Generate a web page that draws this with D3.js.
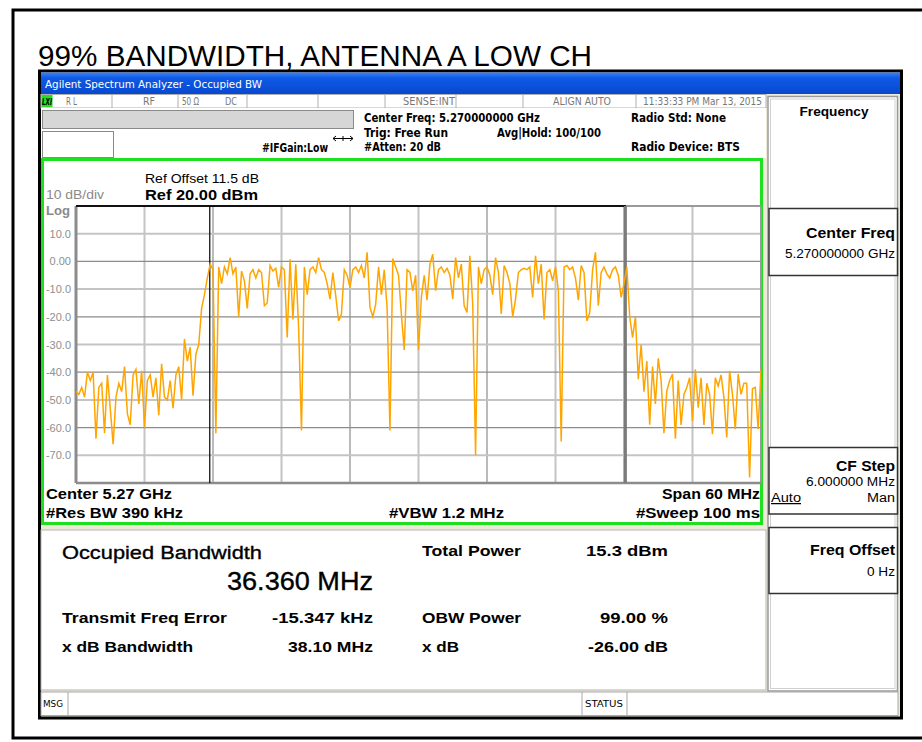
<!DOCTYPE html>
<html>
<head>
<meta charset="utf-8">
<script src="https://cdn.jsdelivr.net/npm/d3@7"></script>
<style>
  body { margin: 0; background: #fff; }
  figure { margin: 0; }
  svg { display: block; }
</style>
</head>
<body>
<figure id="obw"></figure>
<script>
// ---- chart values ----
const pageTitle = "99% BANDWIDTH, ANTENNA A LOW CH";
const windowTitle = "Agilent Spectrum Analyzer - Occupied BW";
const statusCells = ["R L", "RF", "50 Ω", "DC", "SENSE:INT", "ALIGN AUTO", "11:33:33 PM Mar 13, 2015"];
const setupTexts = ["Center Freq: 5.270000000 GHz", "Trig: Free Run", "Avg|Hold: 100/100", "#Atten: 20 dB",
  "Radio Std: None", "Radio Device: BTS", "#IFGain:Low"];
const refTexts = ["Ref Offset 11.5 dB", "Ref 20.00 dBm", "10 dB/div", "Log"];
const footerTexts = ["Center  5.27 GHz", "#Res BW  390 kHz", "#VBW  1.2 MHz", "Span 60 MHz", "#Sweep  100 ms"];

const refLevel = 20;      // dBm, top of graticule
const dbPerDiv = 10;
const spanMHz = 60;
const yTickValues = [10, 0, -10, -20, -30, -40, -50, -60, -70];
const yTickLabels = ["10.0", "0.00", "-10.0", "-20.0", "-30.0", "-40.0", "-50.0", "-60.0", "-70.0"];

// sweep points, offset from center freq
const sweepStartMHz = -30;
const sweepStepMHz = 0.25;
const traceDbm = [
  -47, -48, -45.5, -49, -40, -43, -40, -64, -45.5, -44, -62, -41,
  -53, -66, -49, -44, -47, -38, -55, -59, -41, -39, -51.5, -39.5,
  -60, -43, -41, -49, -42, -55.5, -37, -49, -50, -43, -53, -41,
  -38, -50, -28, -36, -31, -48.5, -33.5, -30, -17, -12, -6, -1,
  -3, -62, -2, -8, -2, -4.5, 1.4, -4.5, -2, -20, -3.5, -7,
  -17, -4.5, -3, -6, -3, -4, -16, -15, -1.5, -3.5, -2.5, -9.4,
  -2, -3, -27.5, 0.8, -21, -1, -24, -61, -2, -12, -3, -2,
  -4, 1.4, -3, -4, -8, -13.6, -4, -12.4, -21.5, -19, -3, -5,
  -9.4, -3, -2, -4, -1.5, -6, 3.3, -16.6, -20, -15.4, -2, -12,
  -3, -16.6, -61, 1, -2, -5, -19, -32, -3, -4, -10.6, -5,
  -32, -13, -5, -14, -1, 2.6, -10.6, -3, -2, -4, -2.5, -5,
  -13.6, 1.4, -6, -1, -16, -18.4, 2, -15.4, -70, -2, -8, -3,
  -2, -5, -12, 1.4, -4, -19, -1.5, -4, -8, -20, -13.6, -4,
  -3, -2.5, -3, -2, -13, 2, -8, -1, -21, -4, -3, -7,
  -2, -10.6, -65, -2, -1.5, -3, -2, -6, -14, -1.5, -4, -21.5,
  -18.4, -3, 3.3, -16, -4, -2, -4.5, -6, -3, -2, -5, -13,
  -8, -2, -20, -27.5, -20, -42.5, -30, -47, -36, -59, -38, -51.5,
  -35, -43, -62, -46.7, -43, -40.7, -64, -43, -59, -48, -45.5, -42,
  -57.6, -39, -52.8, -42, -59, -44, -48, -62.4, -42, -45, -41, -49,
  -63.6, -39.5, -48, -60.6, -40.7, -48, -44, -44, -78, -46, -45.5, -60.6,
  -39
];

// occupied bandwidth result
const obwCenterKHz = -15.347;
const obwMHz = 36.36;
const resultLabels = ["Occupied Bandwidth", "Total Power", "Transmit Freq Error", "OBW Power", "x dB Bandwidth", "x dB"];
const resultValues = ["36.360 MHz", "15.3 dBm", "-15.347 kHz", "99.00 %", "38.10 MHz", "-26.00 dB"];

const softkeyTitles = ["Frequency", "Center Freq", "CF Step", "Freq Offset"];
const softkeyValues = ["5.270000000 GHz", "6.000000 MHz", "0 Hz"];

// ---- drawing ----
const W = 922, H = 742;
const sans = "'Liberation Sans', Arial, sans-serif";
const narrow = "'Liberation Sans Narrow', 'DejaVu Sans Condensed', 'Liberation Sans', Arial, sans-serif";

const svg = d3.select("figure#obw")
  .append("svg")
  .attr("width", W)
  .attr("height", H);

function label(x, y, s, o = {}) {
  const t = svg.append("text")
    .attr("x", x)
    .attr("y", y)
    .attr("font-family", o.family || sans)
    .attr("font-size", o.size || 12)
    .attr("font-weight", o.bold ? "bold" : "normal")
    .attr("fill", o.color || "#000")
    .attr("text-anchor", o.anchor || "start")
    .text(s);
  if (o.width) t.attr("textLength", o.width).attr("lengthAdjust", "spacingAndGlyphs");
  return t;
}

function box(x, y, w, h, fill, stroke, sw) {
  return svg.append("rect")
    .attr("x", x).attr("y", y).attr("width", w).attr("height", h)
    .attr("fill", fill).attr("stroke", stroke || "none").attr("stroke-width", sw || 1);
}

function vline(x, y1, y2, stroke, sw) {
  svg.append("line").attr("x1", x).attr("x2", x).attr("y1", y1).attr("y2", y2)
    .attr("stroke", stroke).attr("stroke-width", sw || 1);
}

// page frame + title
box(0, 0, W, H, "#fff");
box(13, 10, 920, 728, "none", "#000", 3);
label(38, 66, pageTitle, { size: 29, width: 554 });

// analyzer window
box(39.5, 71, 862, 647, "#ece9d8", "#000", 3);
const grad = svg.append("defs").append("linearGradient")
  .attr("id", "xpbar").attr("x1", 0).attr("x2", 0).attr("y1", 0).attr("y2", 1);
grad.append("stop").attr("offset", "0%").attr("stop-color", "#3d82f7");
grad.append("stop").attr("offset", "25%").attr("stop-color", "#0e5ae6");
grad.append("stop").attr("offset", "100%").attr("stop-color", "#0848cf");
box(41, 72.5, 859, 21.5, "url(#xpbar)");
label(45, 87.5, windowTitle, { size: 11, color: "#fff", family: narrow, width: 217 });

// status row
box(41, 94.5, 725, 13.5, "#fff", "#b0b0b0");
box(41.5, 95, 11, 12, "#22dd22");
label(42, 105, "LXI", { size: 9, bold: true, family: narrow, width: 10 }).attr("font-style", "italic");
[112, 178, 247, 318, 385, 456, 523, 636].forEach(sx => vline(sx, 95, 108, "#b0b0b0"));
const statusX = [66, 143, 182, 225, 403, 553, 643];
const statusW = [11, 12, 17, 12, 52, 58, 119];
statusCells.forEach((s, i) => label(statusX[i], 104.5, s, { size: 10, color: "#777", family: narrow, width: statusW[i] }));

// setup info area
box(41, 108, 725, 50, "#fff");
box(42.5, 110.5, 311, 18, "#d6d6d6", "#8a8a8a");
box(42.5, 131.5, 71, 26, "#fff", "#8a8a8a");
svg.append("path").attr("d", "M333,138.5 H353 M336,136 L333,138.5 L336,141 M350,136 L353,138.5 L350,141 M343,136 V141")
  .attr("fill", "none").attr("stroke", "#000").attr("stroke-width", 1);
const setupX = [364, 364, 497, 364, 631, 631, 262];
const setupY = [122, 136.5, 136.5, 151, 122, 151, 152];
const setupW = [176, 84, 104, 77, 95, 109, 66];
setupTexts.forEach((s, i) => label(setupX[i], setupY[i], s, { size: 12, bold: true, family: narrow, width: setupW[i] }));

// green measurement frame
box(42.5, 159.5, 719, 364, "#fff", "#1fe01f", 3);

// scales
const x = d3.scaleLinear().domain([-spanMHz / 2, spanMHz / 2]).range([76, 761]);
const y = d3.scaleLinear().domain([refLevel - 10 * dbPerDiv, refLevel]).range([483, 206]);

// Add graticule
const gridX = d3.range(-24, 30, 6);
svg.append("g").selectAll("line").data(gridX).enter().append("line")
  .attr("x1", d => x(d)).attr("x2", d => x(d))
  .attr("y1", y(refLevel)).attr("y2", y(refLevel - 10 * dbPerDiv))
  .attr("stroke", (d, i) => i % 2 ? "#8c8c8c" : "#c4c4c4")
  .attr("stroke-width", (d, i) => i % 2 ? 1.2 : 2);
svg.append("g").selectAll("line").data(yTickValues).enter().append("line")
  .attr("x1", x(-30)).attr("x2", x(30))
  .attr("y1", d => y(d)).attr("y2", d => y(d))
  .attr("stroke", (d, i) => i % 2 ? "#8c8c8c" : "#c4c4c4")
  .attr("stroke-width", (d, i) => i % 2 ? 1.2 : 2);

// plot border
vline(x(-30), y(refLevel), y(refLevel - 100), "#8c8c8c", 3);
vline(x(30), y(refLevel), y(refLevel - 100), "#9a9a9a", 2);
svg.append("line").attr("x1", x(-30)).attr("x2", x(30)).attr("y1", y(-80)).attr("y2", y(-80))
  .attr("stroke", "#8c8c8c").attr("stroke-width", 2.5);
svg.append("line").attr("x1", x(-30)).attr("x2", x(30)).attr("y1", y(refLevel)).attr("y2", y(refLevel))
  .attr("stroke", "#9a9a9a").attr("stroke-width", 2);

// Add Y axis labels
svg.append("g")
  .attr("transform", "translate(" + x(-30) + ",0)")
  .call(d3.axisLeft(y).tickValues(yTickValues).tickFormat((d, i) => yTickLabels[i]).tickSize(0).tickPadding(5))
  .call(g => g.select(".domain").remove())
  .call(g => g.selectAll("text").attr("font-family", sans).attr("font-size", 11).attr("fill", "#8e8e8e"));

// OBW markers
const obwLeft = obwCenterKHz / 1000 - obwMHz / 2;
const obwRight = obwCenterKHz / 1000 + obwMHz / 2;
svg.append("line").attr("x1", x(-30)).attr("x2", x(obwRight)).attr("y1", y(refLevel)).attr("y2", y(refLevel))
  .attr("stroke", "#111").attr("stroke-width", 2);
vline(x(obwRight) - 0.5, y(refLevel), y(-80), "#7a7a7a", 3);
vline(x(obwLeft) - 1, y(refLevel), y(-80), "#000", 1.2);

// Add trace
svg.append("defs").append("clipPath").attr("id", "plotclip")
  .append("rect").attr("x", x(-30)).attr("y", y(refLevel)).attr("width", x(30) - x(-30)).attr("height", y(-80) - y(refLevel));
const points = traceDbm.map((v, i) => [sweepStartMHz + i * sweepStepMHz, v]);
svg.append("path")
  .datum(points)
  .attr("clip-path", "url(#plotclip)")
  .attr("fill", "none")
  .attr("stroke", "#ffa500")
  .attr("stroke-width", 1.5)
  .attr("stroke-linejoin", "miter")
  .attr("d", d3.line().x(d => x(d[0])).y(d => y(d[1])));

// graph annotations
label(145, 183, refTexts[0], { size: 13, width: 114 });
label(145, 200, refTexts[1], { size: 15, bold: true, width: 113 });
label(46, 199, refTexts[2], { size: 12, color: "#8a8a8a", width: 58 });
label(46, 215, refTexts[3], { size: 12, bold: true, color: "#8a8a8a", width: 24 });
label(46, 498.5, footerTexts[0], { size: 14, bold: true, width: 126 });
label(46, 517.5, footerTexts[1], { size: 14, bold: true, width: 137 });
label(389, 517.5, footerTexts[2], { size: 14, bold: true, width: 115 });
label(760, 498.5, footerTexts[3], { size: 14, bold: true, anchor: "end", width: 98 });
label(760, 517.5, footerTexts[4], { size: 14, bold: true, anchor: "end", width: 124 });

// result panel
box(41, 530, 725, 160, "#fff", "#b5b5b5");
label(62, 558.5, resultLabels[0], { size: 19, width: 200 }).attr("stroke", "#000").attr("stroke-width", 0.35);
label(373, 590, resultValues[0], { size: 25, anchor: "end", width: 146 }).attr("stroke", "#000").attr("stroke-width", 0.35);
label(422, 555.5, resultLabels[1], { size: 15, bold: true, width: 99 });
label(668, 555.5, resultValues[1], { size: 15, bold: true, anchor: "end", width: 82 });
label(62, 623, resultLabels[2], { size: 15, bold: true, width: 165 });
label(373, 623, resultValues[2], { size: 15, bold: true, anchor: "end", width: 101 });
label(422, 623, resultLabels[3], { size: 15, bold: true, width: 99 });
label(668, 623, resultValues[3], { size: 15, bold: true, anchor: "end", width: 68 });
label(62, 652, resultLabels[4], { size: 15, bold: true, width: 131 });
label(373, 652, resultValues[4], { size: 15, bold: true, anchor: "end", width: 85 });
label(422, 652, resultLabels[5], { size: 15, bold: true, width: 37 });
label(668, 652, resultValues[5], { size: 15, bold: true, anchor: "end", width: 80 });

// softkey panel
box(768, 96.5, 129.5, 594.5, "#fff", "#9a9a9a", 1.5);
box(770.5, 99, 124.5, 589.5, "none", "#d0d0d0", 1);
label(834, 116, softkeyTitles[0], { size: 13, bold: true, anchor: "middle", width: 69 });
box(769, 208.5, 128.5, 67, "#fff", "#333", 1.5);
label(895, 238, softkeyTitles[1], { size: 15, bold: true, anchor: "end", width: 89 });
label(895, 258, softkeyValues[0], { size: 12.5, anchor: "end", width: 110 });
box(769, 447.5, 128.5, 66.5, "#fff", "#333", 1.5);
label(895, 470.5, softkeyTitles[2], { size: 15, bold: true, anchor: "end", width: 59 });
label(895, 486, softkeyValues[1], { size: 12.5, anchor: "end", width: 89 });
label(771, 502, "Auto", { size: 12.5, width: 30 }).attr("text-decoration", "underline");
label(895, 502, "Man", { size: 12.5, anchor: "end", width: 28 });
box(769, 527.5, 128.5, 66, "#fff", "#333", 1.5);
label(895, 555, softkeyTitles[3], { size: 15, bold: true, anchor: "end", width: 85 });
label(895, 576, softkeyValues[2], { size: 12.5, anchor: "end", width: 28 });

// bottom status bar
box(41, 692, 857, 23.5, "#fff", "#a8a8a8");
vline(68, 692, 715.5, "#a8a8a8");
vline(582, 692, 715.5, "#a8a8a8");
vline(627, 692, 715.5, "#a8a8a8");
label(43, 707, "MSG", { size: 9, family: narrow, width: 20 });
label(585, 707, "STATUS", { size: 9, family: narrow, width: 38 });
</script>
</body>
</html>
